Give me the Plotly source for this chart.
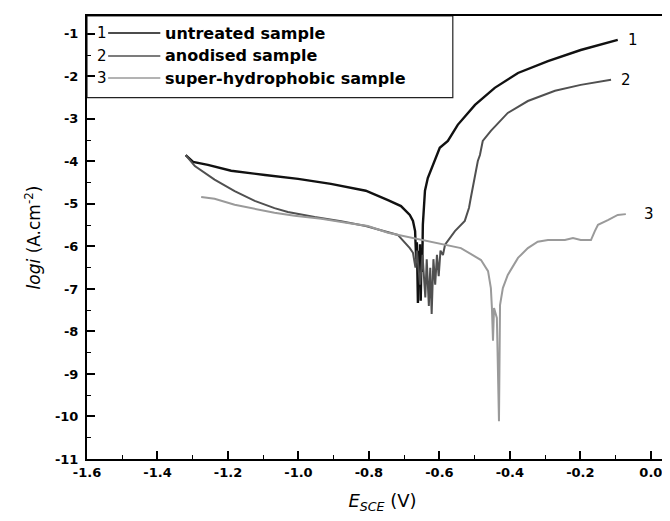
import plotly.graph_objects as go

# ---- data ----
x_untreated = [-1.320, -1.299, -1.257, -1.191, -1.095, -1.001, -0.908, -0.809, -0.746, -0.709,
               -0.684, -0.675, -0.669, -0.666, -0.664, -0.661, -0.659, -0.657, -0.655, -0.653,
               -0.651, -0.649, -0.647, -0.641, -0.633, -0.618, -0.610, -0.599, -0.576, -0.548,
               -0.499, -0.443, -0.377, -0.292, -0.199, -0.094]
y_untreated = [-3.85, -4.01, -4.08, -4.22, -4.32, -4.41, -4.53, -4.69, -4.91, -5.05,
               -5.26, -5.40, -5.64, -6.30, -5.90, -7.33, -6.10, -6.90, -5.95, -7.28,
               -6.20, -6.60, -5.49, -4.69, -4.39, -4.08, -3.92, -3.68, -3.52, -3.14,
               -2.67, -2.27, -1.92, -1.64, -1.38, -1.14]

x_anodised = [-1.320, -1.294, -1.238, -1.181, -1.124, -1.068, -1.030, -0.954, -0.879, -0.809,
              -0.718, -0.684, -0.675, -0.668, -0.664, -0.655, -0.648, -0.640, -0.636, -0.630,
              -0.626, -0.622, -0.617, -0.612, -0.607, -0.602, -0.597, -0.590, -0.584, -0.556,
              -0.528, -0.516, -0.511, -0.502, -0.491, -0.485, -0.477, -0.454, -0.406, -0.349,
              -0.272, -0.199, -0.113]
y_anodised = [-3.85, -4.11, -4.43, -4.70, -4.93, -5.10, -5.19, -5.31, -5.41, -5.52,
              -5.73, -6.04, -6.15, -6.50, -6.10, -6.90, -6.20, -7.20, -6.30, -7.40,
              -6.50, -7.59, -6.30, -6.90, -6.20, -6.70, -6.10, -6.20, -5.96, -5.64,
              -5.40, -5.09, -4.86, -4.44, -3.99, -3.85, -3.52, -3.28, -2.86, -2.58,
              -2.34, -2.20, -2.08]

x_superhydro = [-1.276, -1.238, -1.181, -1.124, -1.068, -1.011, -0.935, -0.860, -0.803, -0.746,
                -0.689, -0.641, -0.584, -0.539, -0.496, -0.482, -0.462, -0.454, -0.451, -0.448,
                -0.445, -0.437, -0.431, -0.428, -0.420, -0.406, -0.377, -0.349, -0.321, -0.292,
                -0.244, -0.221, -0.199, -0.170, -0.159, -0.150, -0.122, -0.094, -0.071]
y_superhydro = [-4.84, -4.88, -5.02, -5.12, -5.21, -5.28, -5.35, -5.45, -5.52, -5.68,
                -5.78, -5.85, -5.96, -6.04, -6.25, -6.32, -6.58, -6.98, -7.45, -8.22,
                -7.45, -7.68, -10.11, -7.38, -6.98, -6.67, -6.27, -6.04, -5.89, -5.85,
                -5.85, -5.80, -5.85, -5.85, -5.64, -5.49, -5.38, -5.26, -5.24]

series_names = ["untreated sample", "anodised sample", "super-hydrophobic sample"]
series_numbers = ["1", "2", "3"]
series_colors = ["#111111", "#505050", "#9a9a9a"]
series_widths = [2.4, 2.0, 2.0]

x_ticks = [-1.6, -1.4, -1.2, -1.0, -0.8, -0.6, -0.4, -0.2, 0.0]
x_tick_labels = ["-1.6", "-1.4", "-1.2", "-1.0", "-0.8", "-0.6", "-0.4", "-0.2", "0.0"]
y_ticks = [-1, -2, -3, -4, -5, -6, -7, -8, -9, -10, -11]
y_tick_labels = [str(v) for v in y_ticks]

xs = [x_untreated, x_anodised, x_superhydro]
ys = [y_untreated, y_anodised, y_superhydro]

FONT = "'DejaVu Sans', Arial, sans-serif"

fig = go.Figure()
for x, y, name, col, w in zip(xs, ys, series_names, series_colors, series_widths):
    fig.add_trace(go.Scatter(x=x, y=y, mode="lines", name=name,
                             line=dict(color=col, width=w), showlegend=False))

# end labels of curves
for x, y, num in zip(xs, ys, series_numbers):
    fig.add_annotation(x=x[-1], y=y[-1], text=num, showarrow=False,
                       xanchor="left", yanchor="middle", xshift=8 if num != "3" else 16,
                       font=dict(family=FONT, size=15, color="#000"))

# legend box (manual, drawn inside the plot like the original)
X_RANGE = [-1.6, 0.077]
Y_RANGE = [-11, -0.58]
fig.add_shape(type="rect", xref="x", yref="y", x0=-1.6, x1=-0.562, y0=-2.50, y1=Y_RANGE[1],
              line=dict(color="#222", width=1.2), fillcolor="rgba(0,0,0,0)")
legend_rows = [-0.98, -1.52, -2.04]
for row, name, num, col in zip(legend_rows, series_names, series_numbers, series_colors):
    fig.add_shape(type="line", xref="x", yref="y", x0=-1.540, x1=-1.392, y0=row, y1=row,
                  line=dict(color=col, width=1.6))
    fig.add_annotation(x=-1.540, y=row, text=num, showarrow=False, xanchor="right",
                       yanchor="middle", xshift=1, font=dict(family=FONT, size=15, color="#000"))
    fig.add_annotation(x=-1.384, y=row, text=name, showarrow=False, xanchor="left",
                       yanchor="middle", font=dict(family=FONT, size=16, color="#000", weight="bold"))

fig.update_layout(
    width=670, height=521,
    margin=dict(l=79, r=0, t=8, b=70),
    paper_bgcolor="white", plot_bgcolor="white",
    font=dict(family=FONT, color="#000"),
)
fig.update_xaxes(
    range=X_RANGE, showgrid=False, zeroline=False,
    showline=True, linecolor="#000", linewidth=2, mirror=True,
    ticks="inside", ticklen=8, tickwidth=1.5, tickcolor="#000",
    tickvals=x_ticks, ticktext=x_tick_labels,
    tickfont=dict(family=FONT, size=13, weight="bold"),
    minor=dict(ticks="inside", ticklen=4, tickwidth=1.2, tickcolor="#000", dtick=0.1, showgrid=False),
    title=dict(text="<i>E</i><sub><i>SCE</i></sub> (V)", font=dict(family=FONT, size=18), standoff=16),
)
fig.update_yaxes(
    range=Y_RANGE, showgrid=False, zeroline=False,
    showline=True, linecolor="#000", linewidth=2,
    ticks="inside", ticklen=8, tickwidth=1.5, tickcolor="#000",
    tickvals=y_ticks, ticktext=y_tick_labels,
    tickfont=dict(family=FONT, size=13, weight="bold"),
    ticklabelstandoff=4,
    minor=dict(ticks="inside", ticklen=4, tickwidth=1.2, tickcolor="#000", dtick=0.5, showgrid=False),
    title=dict(text="<i>logi</i> (A.cm<sup>-2</sup>)", font=dict(family=FONT, size=17), standoff=10),
)

fig.write_html("out.html")
